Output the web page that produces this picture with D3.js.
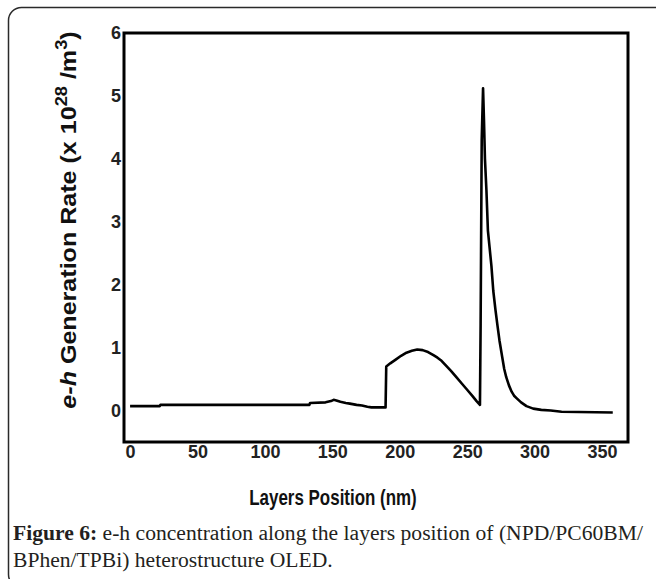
<!DOCTYPE html>
<html>
<head>
<meta charset="utf-8">
<script src="https://cdn.jsdelivr.net/npm/d3@7"></script>
<style>
  body { margin: 0; background: #fff; }
  svg { display: block; }
  .tick-label { font-family: "Liberation Sans", Arial, sans-serif; font-weight: bold; font-size: 18px; fill: #222; }
  .axis-title { font-family: "Liberation Sans", Arial, sans-serif; font-weight: bold; fill: #111; }
  .caption { font-family: "Liberation Serif", "Times New Roman", serif; font-size: 21.6px; fill: #231f20; }
</style>
</head>
<body>
<svg id="chart"></svg>
<script>
// layer position (nm) and e-h generation rate (x 10^28 /m^3)
const positions = [0, 22, 22.5, 133, 133.5, 145, 149, 151, 153, 156, 160, 163, 168, 172, 176, 179, 189.5,
  190, 193, 197, 201, 205, 209, 213, 217, 221, 225, 228, 231, 234, 238, 242, 246, 250, 254, 257, 259.5,
  260, 260.8, 261.8, 262.5, 263.2, 264.3, 265.4, 266.6, 268, 269.4, 271, 272.5, 274, 276, 277.5, 279,
  281, 283, 285, 287, 290, 294, 299, 305, 312, 320, 358];
const rates = [0.07, 0.07, 0.09, 0.09, 0.12, 0.13, 0.15, 0.17, 0.16, 0.14, 0.12, 0.11, 0.09, 0.08, 0.06, 0.05, 0.05,
  0.70, 0.75, 0.81, 0.87, 0.92, 0.95, 0.97, 0.96, 0.93, 0.88, 0.84, 0.79, 0.72, 0.63, 0.53, 0.43, 0.33, 0.23, 0.15, 0.09,
  1.38, 4.3, 5.12, 4.6, 4.0, 3.5, 2.86, 2.6, 2.3, 1.9, 1.6, 1.35, 1.11, 0.85, 0.66, 0.53,
  0.4, 0.3, 0.23, 0.19, 0.13, 0.07, 0.03, 0.01, 0.0, -0.02, -0.03];

const xTicks = [0, 50, 100, 150, 200, 250, 300, 350];
const yTicks = [0, 1, 2, 3, 4, 5, 6];

const xTitle = "Layers Position (nm)";
const captionBold = "Figure 6:";
const captionLine1 = " e-h concentration along the layers position of (NPD/PC60BM/";
const captionLine2 = "BPhen/TPBi) heterostructure OLED.";

const width = 656, height = 579;
const margin = {top: 33, right: 28, bottom: 137, left: 124};
const innerW = width - margin.left - margin.right;
const innerH = height - margin.top - margin.bottom;

const svg = d3.select("#chart")
  .attr("width", width)
  .attr("height", height);

// rounded frame round the whole figure (runs off the right edge)
svg.append("rect")
  .attr("x", 8.5).attr("y", 7.5)
  .attr("width", 680).attr("height", 580)
  .attr("rx", 13)
  .attr("fill", "none")
  .attr("stroke", "#2a2a2a")
  .attr("stroke-width", 1.5);

const chart = svg.append("g")
  .attr("transform", `translate(${margin.left},${margin.top})`);

const x = d3.scaleLinear().domain([-4.5, 369.3]).range([0, innerW]);
const y = d3.scaleLinear().domain([-0.5, 6]).range([innerH, 0]);

// axes: labels only, no tick marks
const xAxis = d3.axisBottom(x).tickValues(xTicks).tickFormat(d3.format("d")).tickSize(0).tickPadding(3);
const yAxis = d3.axisLeft(y).tickValues(yTicks).tickFormat(d3.format("d")).tickSize(0).tickPadding(3);

const xAxisG = chart.append("g")
  .attr("transform", `translate(0,${innerH})`)
  .call(xAxis);
xAxisG.select(".domain").remove();
xAxisG.selectAll("text").attr("class", "tick-label").attr("font-size", null).attr("font-family", null);

const yAxisG = chart.append("g").call(yAxis);
yAxisG.select(".domain").remove();
yAxisG.selectAll("text").attr("class", "tick-label").attr("font-size", null).attr("font-family", null);

// plot box
chart.append("rect")
  .attr("x", 0).attr("y", 0)
  .attr("width", innerW).attr("height", innerH)
  .attr("fill", "none")
  .attr("stroke", "#000")
  .attr("stroke-width", 3);

const line = d3.line()
  .x((d, i) => x(positions[i]))
  .y(d => y(d));

chart.append("path")
  .datum(rates)
  .attr("fill", "none")
  .attr("stroke", "#000")
  .attr("stroke-width", 2.6)
  .attr("stroke-linejoin", "round")
  .attr("d", line);

// axis titles (the original font is a condensed one, so squeeze / stretch a bit)
svg.append("text")
  .attr("class", "axis-title")
  .attr("font-size", "22px")
  .attr("text-anchor", "middle")
  .attr("transform", "translate(333,505) scale(0.77,1)")
  .text(xTitle);

const yTitle = svg.append("text")
  .attr("class", "axis-title")
  .attr("font-size", "22px")
  .attr("text-anchor", "middle")
  .attr("transform", "translate(76,220) rotate(-90) scale(1.14,1)");
yTitle.append("tspan").attr("font-style", "italic").text("e-h");
yTitle.append("tspan").text(" Generation Rate (x 10");
yTitle.append("tspan").attr("font-size", "16px").attr("dy", -9).text("28");
yTitle.append("tspan").attr("dy", 9).text(" /m");
yTitle.append("tspan").attr("font-size", "16px").attr("dy", -9).text("3");
yTitle.append("tspan").attr("dy", 9).text(")");

// caption
const cap1 = svg.append("text").attr("class", "caption").attr("x", 13).attr("y", 540);
cap1.append("tspan").attr("font-weight", "bold").text(captionBold);
cap1.append("tspan").text(captionLine1);
svg.append("text").attr("class", "caption").attr("x", 13).attr("y", 567).text(captionLine2);
</script>
</body>
</html>
